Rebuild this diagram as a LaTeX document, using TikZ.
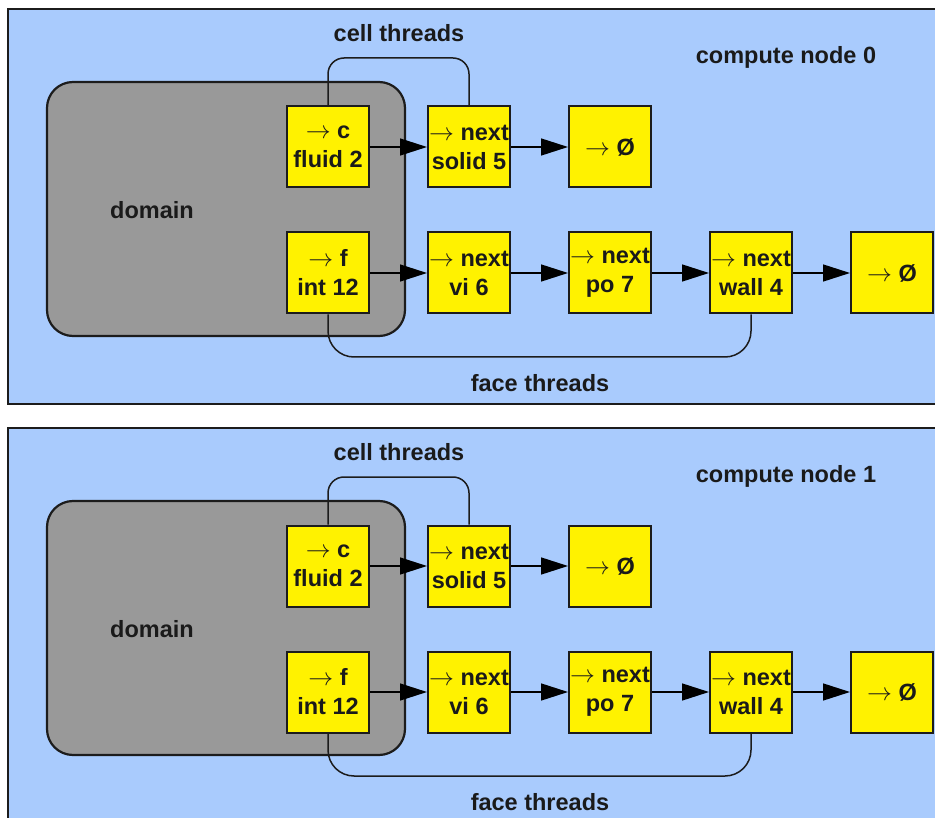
\documentclass[tikz,border=0pt]{standalone}
\usepackage{fontspec}
\setmainfont{Liberation Sans}
\usetikzlibrary{arrows.meta}
\definecolor{panelblue}{HTML}{A9CBFD}
\definecolor{dgray}{HTML}{999999}
\definecolor{edgec}{HTML}{1C1C1C}
\definecolor{txt}{HTML}{1A1A1A}
\newcommand\rarr{\mbox{$\rightarrow$}}
\tikzset{
  panel/.style={fill=panelblue, draw=edgec, line width=2.5pt},
  domainbox/.style={fill=dgray, draw=edgec, line width=2.2pt, rounded corners=26pt},
  cellbox/.style={fill=yellow, draw=edgec, line width=2pt, minimum width=82pt,
    minimum height=81pt, inner sep=0pt, align=center,
    font=\fontsize{23.5}{29}\selectfont\bfseries, text=txt},
  lab/.style={font=\fontsize{23.5}{29}\selectfont\bfseries, text=txt, inner sep=0pt},
  link/.style={draw=black, line width=1.5pt, -{Triangle[length=27pt,width=17pt]}},
  thread/.style={draw=edgec, line width=1.5pt}
}
\newcommand\drawpanel[3]{%
\begin{scope}[yshift=-#2pt]
  \path[panel] (8,9) rectangle (960,404);
  \path[domainbox] (47,82) rectangle (405,336);
  \node[lab] (dl#1) at (152,210) {domain};
  \node[lab] (ct#1) at (399,33) {cell threads};
  \node[lab] (cn#1) at (786,57) {compute node #3};
  \node[lab] (ft#1) at (540,383) {face threads};
  \coordinate (ctop#1) at (399,58);
  \coordinate (fbot#1) at (540,357);
  \node[cellbox] (fl#1) at (328,147) {\rarr\ c\\fluid 2};
  \node[cellbox] (so#1) at (469,147) {\rarr\ next\\solid 5};
  \node[cellbox] (nc#1) at (610,147) {\rarr\ Ø};
  \node[cellbox] (in#1) at (328,273) {\rarr\ f\\int 12};
  \node[cellbox] (vi#1) at (469,273) {\rarr\ next\\vi 6};
  \node[cellbox] (po#1) at (610,273) {\rarr\ next\\po 7};
  \node[cellbox] (wa#1) at (751,273) {\rarr\ next\\wall 4};
  \node[cellbox] (nf#1) at (892,273) {\rarr\ Ø};
  \draw[thread, rounded corners=16pt] (fl#1.north) |- (ctop#1) -| (so#1.north);
  \draw[thread, rounded corners=26pt] (in#1.south) |- (fbot#1) -| (wa#1.south);
  \draw[link] (fl#1) -- (so#1);
  \draw[link] (so#1) -- (nc#1);
  \draw[link] (in#1) -- (vi#1);
  \draw[link] (vi#1) -- (po#1);
  \draw[link] (po#1) -- (wa#1);
  \draw[link] (wa#1) -- (nf#1);
\end{scope}}
\begin{document}
\begin{tikzpicture}[x=1pt,y=-1pt]
  \path[use as bounding box, clip] (0,0) rectangle (935,818);
  \fill[white] (0,0) rectangle (935,818);
  \drawpanel{a}{0}{0}
  \drawpanel{b}{419}{1}
\end{tikzpicture}
\end{document}
